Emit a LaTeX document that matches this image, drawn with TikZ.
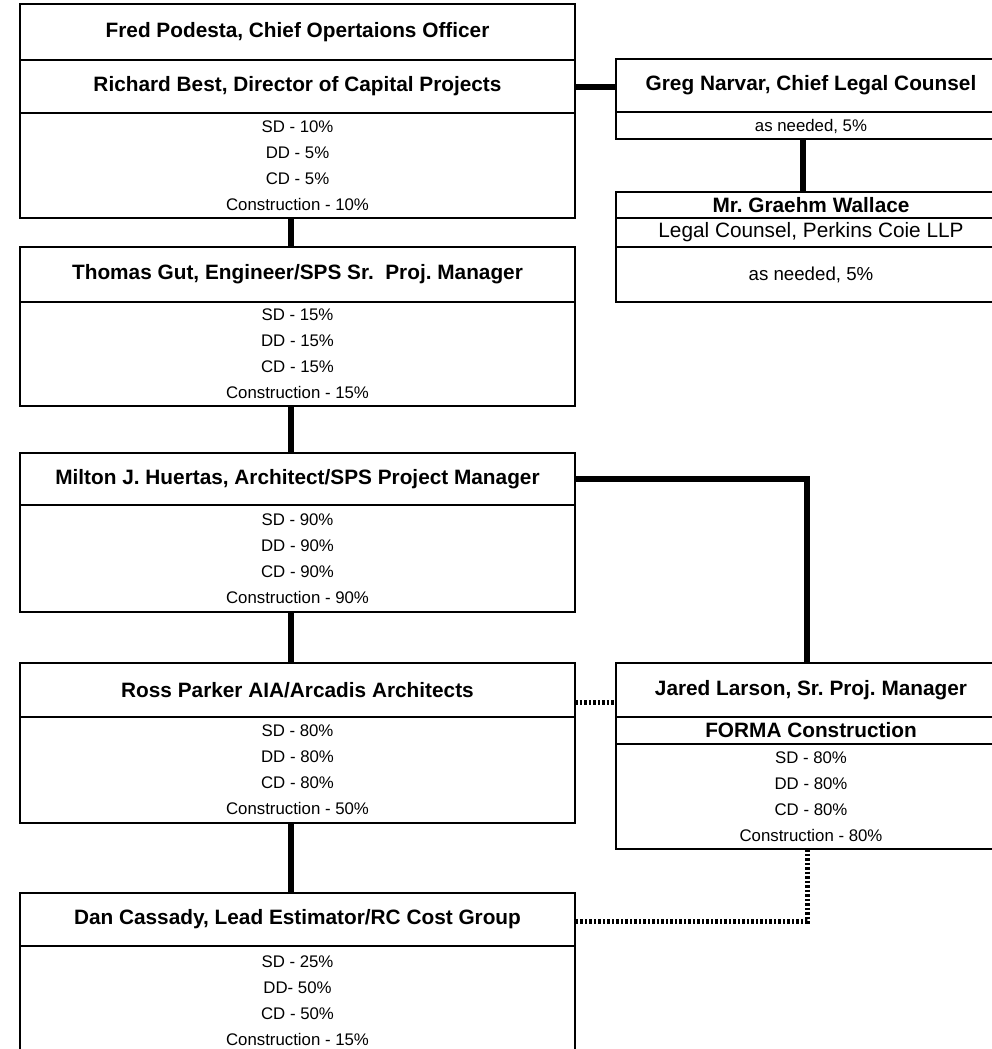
\documentclass[tikz,border=0pt]{standalone}
\usepackage{fontspec}
\setmainfont{Liberation Sans}
\frenchspacing
\begin{document}
\begin{tikzpicture}[x=1pt,y=-1pt,
	box/.style={draw, line width=1.5pt, inner sep=0pt, outer sep=0pt, anchor=north west, align=center},
	leftcol/.style={box, minimum width=555pt},
	rightcol/.style={box, minimum width=390pt},
	headtext/.style={font=\fontsize{20.8}{25}\selectfont\bfseries},
	infotext/.style={font=\fontsize{16.8}{26}\selectfont, text depth=0pt},
	link/.style={line width=6pt},
	dotlink/.style={line width=5pt, dash pattern=on 2.5pt off 2pt}]
	\useasboundingbox (0,0) rectangle (992,1049);
	\clip (0,0) rectangle (992,1049);
	% left column
	\node[leftcol, headtext, minimum height=56pt] (fred) at (20,4) {Fred Podesta, Chief Opertaions Officer};
	\node[leftcol, headtext, minimum height=53pt] (richhead) at (20,60) {Richard Best, Director of Capital Projects};
	\node[leftcol, infotext, minimum height=105pt] (richinfo) at (20,113) {SD - 10\%\\DD - 5\%\\CD - 5\%\\Construction - 10\%};
	\node[leftcol, headtext, minimum height=55pt] (thomashead) at (20,247) {Thomas Gut, Engineer/SPS Sr.\ \ Proj. Manager};
	\node[leftcol, infotext, minimum height=104pt] (thomasinfo) at (20,302) {SD - 15\%\\DD - 15\%\\CD - 15\%\\Construction - 15\%};
	\node[leftcol, headtext, minimum height=52pt] (miltonhead) at (20,453) {Milton J. Huertas, Architect/SPS Project Manager};
	\node[leftcol, infotext, minimum height=107pt] (miltoninfo) at (20,505) {SD - 90\%\\DD - 90\%\\CD - 90\%\\Construction - 90\%};
	\node[leftcol, headtext, minimum height=54pt] (rosshead) at (20,663) {Ross Parker AIA/Arcadis Architects};
	\node[leftcol, infotext, minimum height=106pt] (rossinfo) at (20,717) {SD - 80\%\\DD - 80\%\\CD - 80\%\\Construction - 50\%};
	\node[leftcol, headtext, minimum height=53pt] (danhead) at (20,893) {Dan Cassady, Lead Estimator/RC Cost Group};
	\node[leftcol, infotext, minimum height=110pt] (daninfo) at (20,946) {SD - 25\%\\DD- 50\%\\CD - 50\%\\Construction - 15\%};
	% right column
	\node[rightcol, headtext, minimum height=53pt] (greghead) at (616,59) {Greg Narvar, Chief Legal Counsel};
	\node[rightcol, infotext, minimum height=27pt] (greginfo) at (616,112) {as needed, 5\%};
	\node[rightcol, headtext, minimum height=26pt] (graehmname) at (616,192) {Mr. Graehm Wallace};
	\node[rightcol, font=\fontsize{20.8}{25}\selectfont, minimum height=29pt] (graehmrole) at (616,218) {Legal Counsel, Perkins Coie LLP};
	\node[rightcol, font=\fontsize{18.7}{22}\selectfont, minimum height=55pt] (graehminfo) at (616,247) {as needed, 5\%};
	\node[rightcol, headtext, minimum height=54pt] (jaredhead) at (616,663) {Jared Larson, Sr. Proj. Manager};
	\node[rightcol, headtext, minimum height=27pt] (forma) at (616,717) {FORMA Construction};
	\node[rightcol, infotext, minimum height=105pt] (jaredinfo) at (616,744) {SD - 80\%\\DD - 80\%\\CD - 80\%\\Construction - 80\%};
	% connectors
	\draw[link] (richhead.east) -- (richhead.east -| greghead.west);
	\draw[link] ([xshift=-8pt]greginfo.south) -- ([xshift=-8pt]graehmname.north);
	\draw[link] ([xshift=-6.5pt]richinfo.south) -- ([xshift=-6.5pt]thomashead.north);
	\draw[link] ([xshift=-6.5pt]thomasinfo.south) -- ([xshift=-6.5pt]miltonhead.north);
	\draw[link] ([xshift=-6.5pt]miltoninfo.south) -- ([xshift=-6.5pt]rosshead.north);
	\draw[link] ([xshift=-6.5pt]rossinfo.south) -- ([xshift=-6.5pt]danhead.north);
	\draw[link] (miltonhead.east) -| ([xshift=-4pt]jaredhead.north);
	\draw[dotlink] ([yshift=-12pt]rosshead.east) -- ([yshift=-12pt]rosshead.east -| jaredhead.west);
	\draw[dotlink] ([xshift=-4pt]jaredinfo.south) |- ([yshift=-2pt]danhead.east);
\end{tikzpicture}
\end{document}
